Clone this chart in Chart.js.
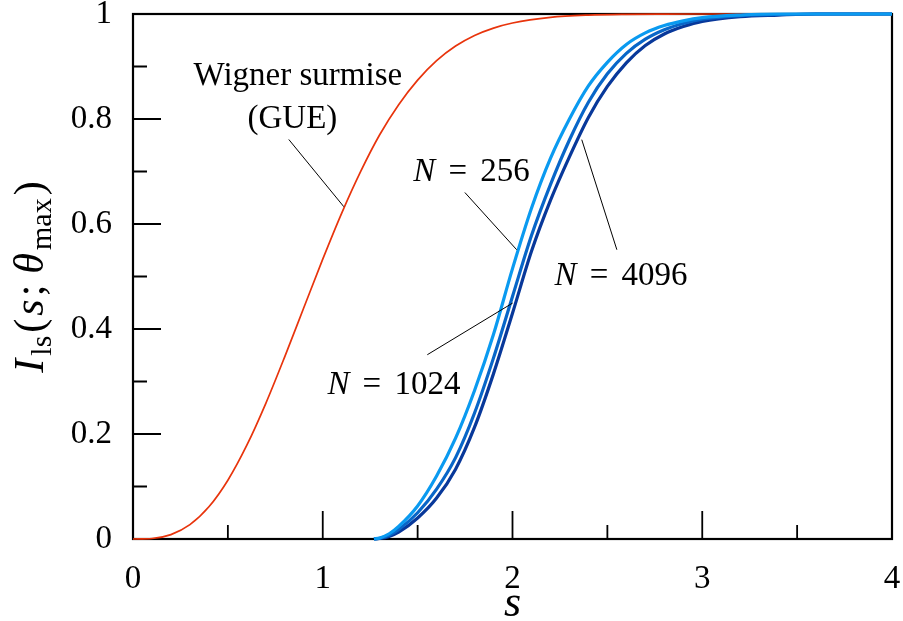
<!DOCTYPE html>
<html>
<head>
<meta charset="utf-8">
<script src="https://cdn.jsdelivr.net/npm/chart.js@4.4.0/dist/chart.umd.min.js"></script>
<style>
  body { margin: 0; background: #fff; }
  #wrap { width: 903px; height: 621px; }
</style>
</head>
<body>
<div id="wrap"><canvas id="chart-spacing" width="903" height="621"></canvas></div>
<script>
// values
const sRed = [0, 0.1, 0.2, 0.3, 0.4, 0.5, 0.6, 0.7, 0.8, 0.9, 1.0, 1.1, 1.2, 1.3, 1.4, 1.5, 1.6, 1.7, 1.8, 1.9, 2.0, 2.2, 2.4, 2.6, 2.8, 3.0, 4.0]
const wignerGUE = [0, 0.001, 0.0084, 0.0273, 0.0613, 0.112, 0.1786, 0.2584, 0.3474, 0.4404, 0.533, 0.6208, 0.7002, 0.770, 0.8273, 0.8741, 0.9111, 0.9389, 0.9591, 0.9732, 0.9829, 0.9936, 0.9979, 0.9994, 0.9998, 1, 1]

const sBlue = [1.27, 1.3, 1.35, 1.4, 1.5, 1.6, 1.7, 1.8, 1.9, 2.0, 2.1, 2.2, 2.3, 2.4, 2.5, 2.6, 2.7, 2.8, 2.9, 3.0, 3.2, 3.4, 3.6, 4.0]
const n256 = [0, 0.002, 0.010, 0.024, 0.063, 0.120, 0.192, 0.283, 0.390, 0.515, 0.630, 0.725, 0.800, 0.863, 0.908, 0.942, 0.964, 0.978, 0.987, 0.993, 0.998, 1, 1, 1]
const n1024 = [0, 0.0015, 0.007, 0.018, 0.050, 0.095, 0.155, 0.240, 0.345, 0.462, 0.578, 0.675, 0.760, 0.832, 0.886, 0.925, 0.952, 0.970, 0.982, 0.990, 0.997, 0.999, 1, 1]
const n4096 = [0, 0.001, 0.005, 0.013, 0.040, 0.078, 0.133, 0.213, 0.315, 0.430, 0.548, 0.645, 0.728, 0.803, 0.862, 0.907, 0.940, 0.962, 0.976, 0.986, 0.995, 0.998, 1, 1]

const xTicks = [0, 1, 2, 3, 4]
const yTicks = [0, 0.2, 0.4, 0.6, 0.8, 1]

const FONT = '"Liberation Serif", "Times New Roman", serif'

function pts(xs, ys) {
  return xs.map((x, i) => ({ x: x, y: ys[i] }))
}

// labels and leader lines, in data units
const notes = [
  { kind: 'text', text: 'Wigner surmise', x: 0.869, y: 0.865 },
  { kind: 'text', text: '(GUE)', x: 0.840, y: 0.783 },
  { kind: 'n', text: '256', x: 1.784, y: 0.681 },
  { kind: 'n', text: '4096', x: 2.572, y: 0.484 },
  { kind: 'n', text: '1024', x: 1.375, y: 0.277 }
]
const leaders = [
  [0.821, 0.761, 1.111, 0.633],
  [1.749, 0.660, 2.022, 0.551],
  [1.551, 0.351, 2.001, 0.4495],
  [2.365, 0.7606, 2.550, 0.551]
]

const framePlugin = {
  id: 'frame',
  beforeDatasetsDraw(chart) {
    const ctx = chart.ctx
    const a = chart.chartArea
    const sx = chart.scales.x, sy = chart.scales.y
    ctx.save()
    ctx.strokeStyle = '#000'
    ctx.lineWidth = 2.2
    ctx.strokeRect(a.left, a.top, a.right - a.left, a.bottom - a.top)
    ctx.lineWidth = 1.8
    ctx.beginPath()
    for (let v = 0; v <= 4.001; v += 0.5) {
      const px = sx.getPixelForValue(v)
      const len = Math.abs(v - Math.round(v)) < 1e-6 ? 28 : 14
      ctx.moveTo(px, a.bottom)
      ctx.lineTo(px, a.bottom - len)
    }
    for (let k = 0; k <= 10; k++) {
      const py = sy.getPixelForValue(k / 10)
      const len = k % 2 === 0 ? 28 : 14
      ctx.moveTo(a.left, py)
      ctx.lineTo(a.left + len, py)
    }
    ctx.stroke()
    ctx.restore()
  },
  afterDraw(chart) {
    const ctx = chart.ctx
    const a = chart.chartArea
    const sx = chart.scales.x, sy = chart.scales.y
    ctx.save()
    ctx.fillStyle = '#000'
    ctx.strokeStyle = '#000'
    ctx.lineWidth = 1
    // leader lines
    ctx.beginPath()
    leaders.forEach(l => {
      ctx.moveTo(sx.getPixelForValue(l[0]), sy.getPixelForValue(l[1]))
      ctx.lineTo(sx.getPixelForValue(l[2]), sy.getPixelForValue(l[3]))
    })
    ctx.stroke()

    ctx.textBaseline = 'alphabetic'
    notes.forEach(n => {
      const cx = sx.getPixelForValue(n.x)
      const by = sy.getPixelForValue(n.y)
      if (n.kind === 'text') {
        ctx.font = '33px ' + FONT
        ctx.textAlign = 'center'
        ctx.fillText(n.text, cx, by)
      } else {
        // N = value
        const em = 33
        ctx.textAlign = 'left'
        ctx.font = 'italic ' + em + 'px ' + FONT
        const wN = ctx.measureText('N').width
        ctx.font = em + 'px ' + FONT
        const wEq = ctx.measureText('=').width
        const wV = ctx.measureText(n.text).width
        const gap = 0.4 * em
        const total = wN + gap + wEq + gap + wV
        let x0 = cx - total / 2
        ctx.font = 'italic ' + em + 'px ' + FONT
        ctx.fillText('N', x0, by)
        ctx.font = em + 'px ' + FONT
        ctx.fillText('=', x0 + wN + gap, by)
        ctx.fillText(n.text, x0 + wN + gap + wEq + gap, by)
      }
    })

    // x title
    ctx.font = 'italic 44px ' + FONT
    ctx.textAlign = 'center'
    ctx.fillText('s', sx.getPixelForValue(2), 616)

    // y title  I_ls(s; θ_max)
    const big = 42, small = 30, sub = 8, gap = 3
    const parts = [
      { t: 'I', f: 'italic ' + big + 'px ' + FONT, dy: 0 },
      { t: 'ls', f: small + 'px ' + FONT, dy: sub },
      { t: '(', f: big + 'px ' + FONT, dy: 0 },
      { t: 's', f: 'italic ' + big + 'px ' + FONT, dy: 0 },
      { t: ';', f: big + 'px ' + FONT, dy: 0, after: 8 },
      { t: 'θ', f: 'italic ' + big + 'px ' + FONT, dy: 0 },
      { t: 'max', f: small + 'px ' + FONT, dy: sub },
      { t: ')', f: big + 'px ' + FONT, dy: 0 }
    ]
    let total = 0
    parts.forEach(p => {
      ctx.font = p.f
      p.w = ctx.measureText(p.t).width
      total += p.w + gap + (p.after || 0)
    })
    total -= gap
    ctx.translate(43, 277)
    ctx.rotate(-Math.PI / 2)
    ctx.textAlign = 'left'
    let xx = -total / 2
    parts.forEach(p => {
      ctx.font = p.f
      ctx.fillText(p.t, xx, p.dy)
      xx += p.w + gap + (p.after || 0)
    })
    ctx.restore()
  }
}

const tickFont = { family: FONT, size: 33 }

new Chart(document.getElementById('chart-spacing'), {
  type: 'line',
  data: {
    datasets: [
      { label: 'N = 256', data: pts(sBlue, n256), borderColor: '#0a9af0', borderWidth: 3.2 },
      { label: 'N = 1024', data: pts(sBlue, n1024), borderColor: '#0866c8', borderWidth: 3.2 },
      { label: 'N = 4096', data: pts(sBlue, n4096), borderColor: '#08389a', borderWidth: 3.2 },
      { label: 'Wigner surmise (GUE)', data: pts(sRed, wignerGUE), borderColor: '#e8340c', borderWidth: 1.7 }
    ]
  },
  plugins: [framePlugin],
  options: {
    responsive: false,
    animation: false,
    devicePixelRatio: 1,
    layout: { padding: { top: 14, right: 11, left: 0, bottom: 0 } },
    datasets: {
      line: {
        pointRadius: 0,
        fill: false,
        cubicInterpolationMode: 'monotone',
        clip: false,
        borderCapStyle: 'butt'
      }
    },
    plugins: {
      legend: { display: false },
      tooltip: { enabled: false }
    },
    scales: {
      x: {
        type: 'linear',
        min: 0,
        max: 4,
        afterBuildTicks: (scale) => { scale.ticks = xTicks.map(v => ({ value: v })) },
        afterFit: (scale) => { scale.height = 82; scale.paddingLeft = 0; scale.paddingRight = 0 },
        grid: { display: false },
        border: { display: false },
        ticks: { color: '#000', font: tickFont, padding: 13, maxRotation: 0, callback: (v) => String(v) }
      },
      y: {
        type: 'linear',
        min: 0,
        max: 1,
        afterBuildTicks: (scale) => { scale.ticks = yTicks.map(v => ({ value: v })) },
        afterFit: (scale) => { scale.width = 133; scale.paddingTop = 0; scale.paddingBottom = 0 },
        grid: { display: false },
        border: { display: false },
        ticks: { color: '#000', font: tickFont, padding: 13, callback: (v) => String(v) }
      }
    }
  }
});
</script>
</body>
</html>
